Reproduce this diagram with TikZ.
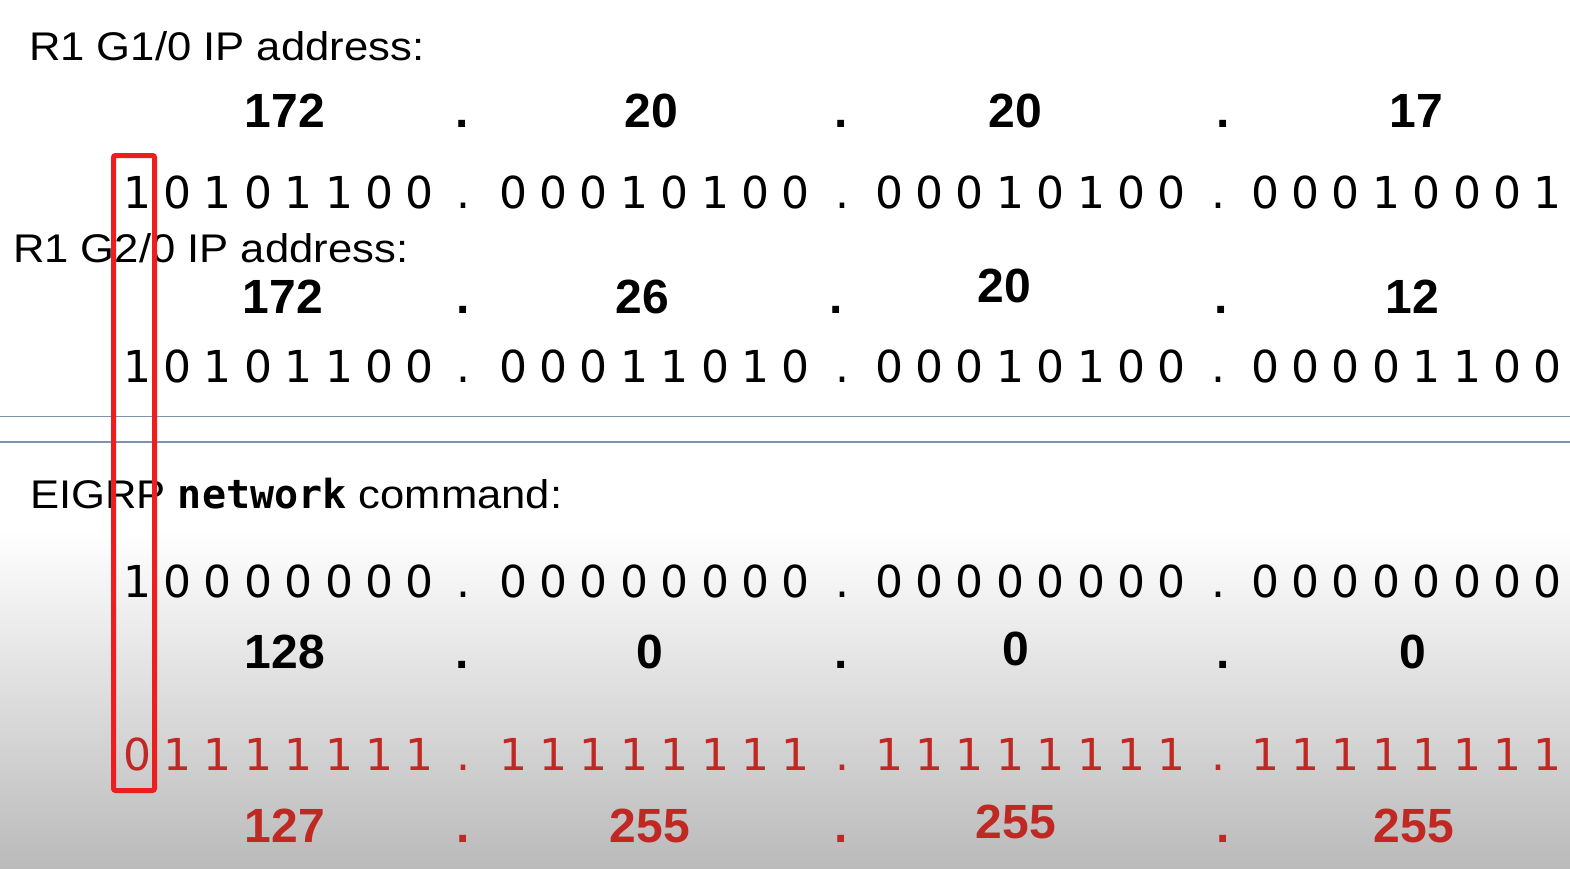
\documentclass[tikz,border=0pt]{standalone}
\usepackage{fontspec}
\setmainfont{Liberation Sans}
\newfontfamily\titlef[FakeStretch=1.09]{Liberation Sans}
\newfontfamily\bitf{DejaVu Sans}
\newfontfamily\monof{DejaVu Sans Mono}
\definecolor{txtred}{RGB}{192,40,36}
\definecolor{boxred}{RGB}{236,30,30}
\definecolor{sepline}{RGB}{125,147,174}
\definecolor{bggray}{RGB}{186,186,186}
\begin{document}
\begin{tikzpicture}[x=1pt,y=-1pt,
  bit/.style={font=\bitf\fontsize{44}{44}\selectfont, anchor=base, inner sep=0pt},
  dec/.style={font=\fontsize{48}{48}\selectfont\bfseries, anchor=base, inner sep=0pt},
  ttl/.style={font=\titlef\fontsize{40}{40}\selectfont, anchor=base west, inner sep=0pt},
  sep/.style={draw=sepline, line width=1.5pt},
  hilite/.style={draw=boxred, line width=5pt, rounded corners=2pt}]
\useasboundingbox (0,0) rectangle (1570,868);
\fill[white] (0,0) rectangle (1570,868);
\shade[top color=white, bottom color=bggray] (0,530) rectangle (1570,868);

% separator lines
\coordinate (l1a) at (0,416.5); \coordinate (l1b) at (1570,416.5);
\coordinate (l2a) at (0,442); \coordinate (l2b) at (1570,442);
\draw[sep] (l1a) -- (l1b);
\draw[sep] (l2a) -- (l2b);

% titles
\node[ttl] (t1) at (29,60) {R1 G1/0 IP address:};
\node[ttl] (t2) at (13,262) {R1 G2/0 IP address:};
\node[ttl] (t3) at (30,508) {EIGRP {\monof\bfseries network} command:};

% decimal row 1
\node[dec] (d1a) at (285,127) {172};
\node[dec] (d1b) at (651,127) {20};
\node[dec] (d1c) at (1015,127) {20};
\node[dec] (d1d) at (1416,127) {17};
\foreach \d [count=\k] in {462,841,1223} \node[dec] (d1dot\k) at (\d,127) {.};

% binary row 1
\foreach \b [count=\i from 0] in {1,0,1,0,1,1,0,0, 0,0,0,1,0,1,0,0, 0,0,0,1,0,1,0,0, 0,0,0,1,0,0,0,1} {
  \pgfmathsetmacro\xx{137+376*floor(\i/8)+40.4*mod(\i,8)}
  \node[bit] (b1-\i) at (\xx,208) {\b};
}
\foreach \d [count=\k] in {463,842,1218} \node[bit] (b1dot\k) at (\d,208) {.};

% decimal row 2
\node[dec] (d2a) at (283,313) {172};
\node[dec] (d2b) at (642,313) {26};
\node[dec] (d2c) at (1004,302) {20};
\node[dec] (d2d) at (1412,313) {12};
\foreach \d [count=\k] in {463,836,1221} \node[dec] (d2dot\k) at (\d,313) {.};

% binary row 2
\foreach \b [count=\i from 0] in {1,0,1,0,1,1,0,0, 0,0,0,1,1,0,1,0, 0,0,0,1,0,1,0,0, 0,0,0,0,1,1,0,0} {
  \pgfmathsetmacro\xx{137+376*floor(\i/8)+40.4*mod(\i,8)}
  \node[bit] (b2-\i) at (\xx,382) {\b};
}
\foreach \d [count=\k] in {463,842,1218} \node[bit] (b2dot\k) at (\d,382) {.};

% binary row 3
\foreach \b [count=\i from 0] in {1,0,0,0,0,0,0,0, 0,0,0,0,0,0,0,0, 0,0,0,0,0,0,0,0, 0,0,0,0,0,0,0,0} {
  \pgfmathsetmacro\xx{137+376*floor(\i/8)+40.4*mod(\i,8)}
  \node[bit] (b3-\i) at (\xx,597) {\b};
}
\foreach \d [count=\k] in {463,842,1218} \node[bit] (b3dot\k) at (\d,597) {.};

% decimal row 3
\node[dec] (d3a) at (285,668) {128};
\node[dec] (d3b) at (650,668) {0};
\node[dec] (d3c) at (1016,665) {0};
\node[dec] (d3d) at (1413,668) {0};
\foreach \d [count=\k] in {462,841,1223} \node[dec] (d3dot\k) at (\d,668) {.};

% binary row 4 (red)
\foreach \b [count=\i from 0] in {0,1,1,1,1,1,1,1, 1,1,1,1,1,1,1,1, 1,1,1,1,1,1,1,1, 1,1,1,1,1,1,1,1} {
  \pgfmathsetmacro\xx{137+376*floor(\i/8)+40.4*mod(\i,8)}
  \node[bit, text=txtred] (b4-\i) at (\xx,770) {\b};
}
\foreach \d [count=\k] in {463,842,1218} \node[bit, text=txtred] (b4dot\k) at (\d,770) {.};

% decimal row 4 (red)
\node[dec, text=txtred] (d4a) at (285,842) {127};
\node[dec, text=txtred] (d4b) at (650,842) {255};
\node[dec, text=txtred] (d4c) at (1016,838) {255};
\node[dec, text=txtred] (d4d) at (1414,842) {255};
\foreach \d [count=\k] in {463,841,1223} \node[dec, text=txtred] (d4dot\k) at (\d,842) {.};

% highlight box
\coordinate (hbA) at (113.5,155.5);
\coordinate (hbB) at (154.5,790.5);
\draw[hilite] (hbA) rectangle (hbB);
\end{tikzpicture}
\end{document}
